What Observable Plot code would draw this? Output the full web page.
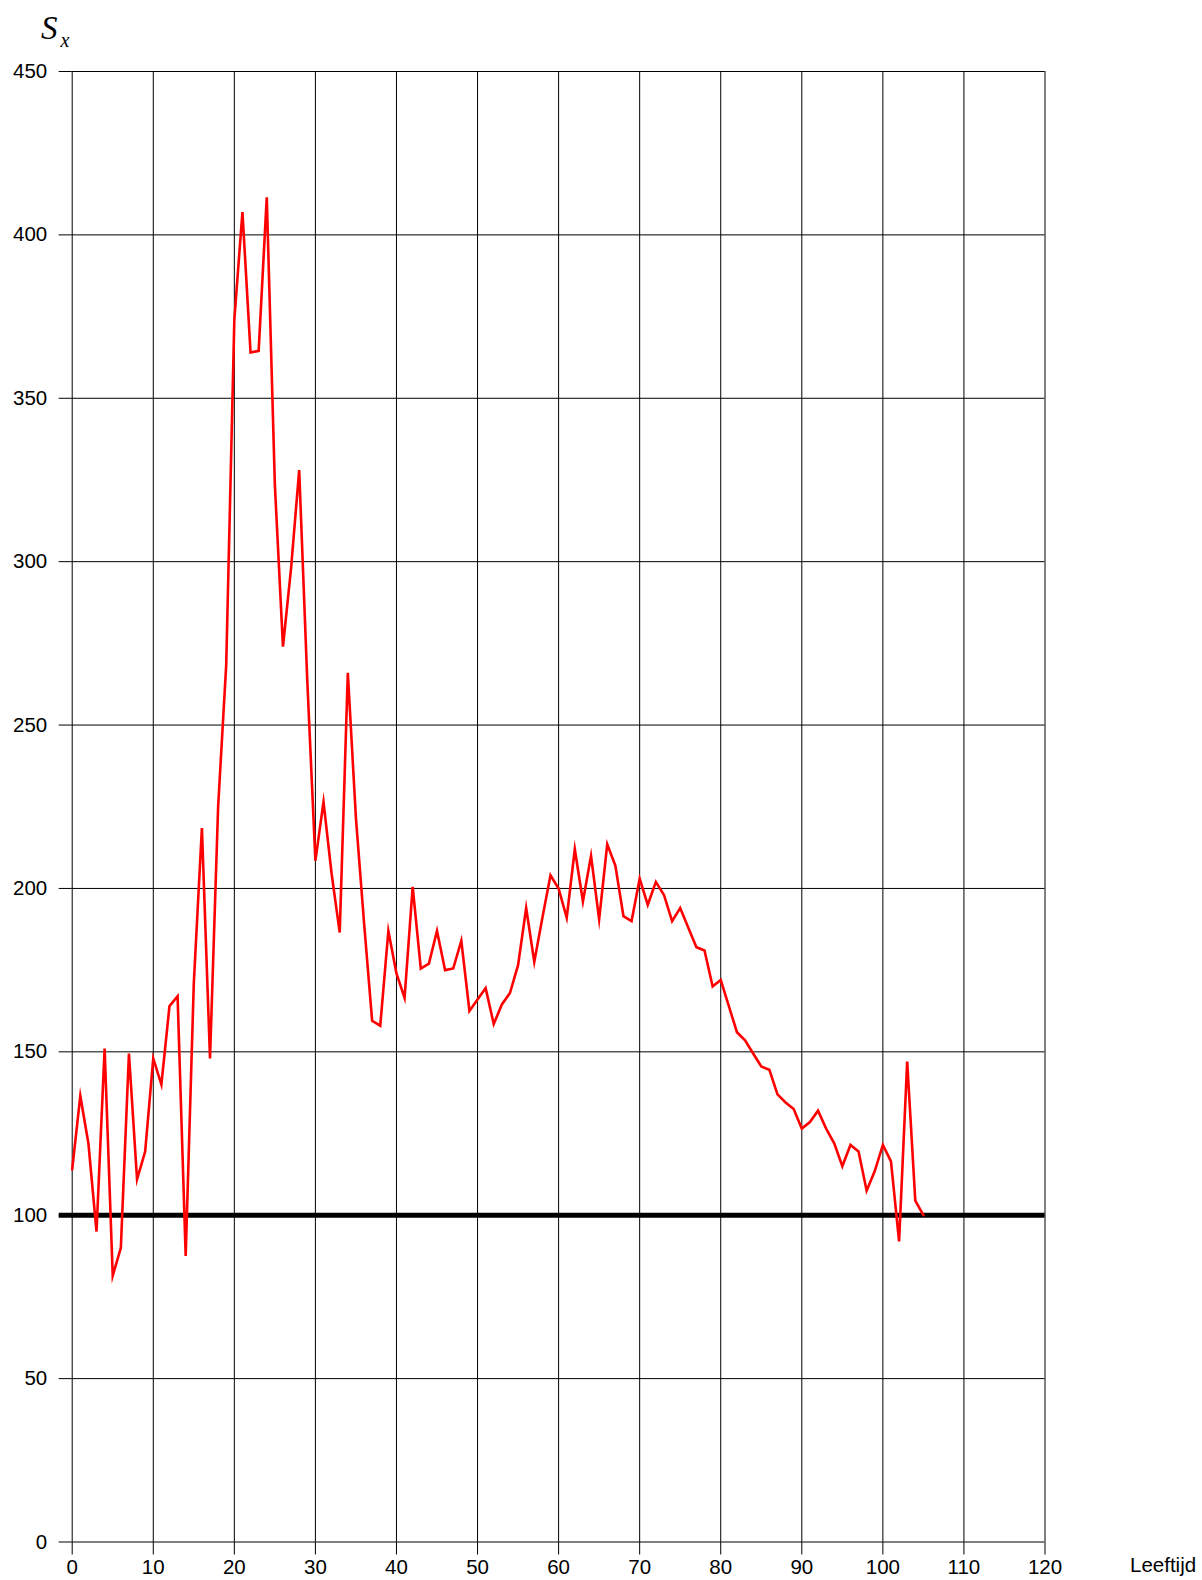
<!DOCTYPE html>
<html>
<head>
<meta charset="utf-8">
<script src="https://cdn.jsdelivr.net/npm/d3@7"></script>
<script src="https://cdn.jsdelivr.net/npm/@observablehq/plot@0.6"></script>
<style>
  html, body { margin: 0; padding: 0; background: #fff; overflow: hidden; }
  #chart { width: 1202px; height: 1580px; }
</style>
</head>
<body>
<div id="chart"></div>
<script>
const ages = [0,1,2,3,4,5,6,7,8,9,10,11,12,13,14,15,16,17,18,19,20,21,22,23,24,25,26,27,28,29,30,31,32,33,34,35,36,37,38,39,40,41,42,43,44,45,46,47,48,49,50,51,52,53,54,55,56,57,58,59,60,61,62,63,64,65,66,67,68,69,70,71,72,73,74,75,76,77,78,79,80,81,82,83,84,85,86,87,88,89,90,91,92,93,94,95,96,97,98,99,100,101,102,103,104,105];
const sx = [114,136.5,122,95,151,81.5,90,149.5,111,119.5,148,140,164,167,87.5,171,218.5,148,225,268.5,374,407,364,364.5,411.5,323.5,274,298,328,263.5,208.5,226.5,204.5,186.5,266,221.5,189.5,159.5,158,187,174,166.5,200.5,175.5,177,187,175,175.5,184,162.5,166,169.5,158.5,164.5,168,176.5,194,177.5,191,204,200,191,212,196,210,190.5,213.5,207,191.5,190,203,195,202,198,190,194,188,182,181,170,172,164,156,153.5,149.5,145.5,144.5,137,134.5,132.5,126.5,128.5,132,126.5,122,115,121.5,119.5,107.5,113.5,121.5,116.5,92,147,104.5,100];
const xTicks = [0,10,20,30,40,50,60,70,80,90,100,110,120];
const yTicks = [0,50,100,150,200,250,300,350,400,450];
const reference = [100];
const xLabel = "Leeftijd";

const data = ages.map((a, i) => ({age: a, s: sx[i]}));

const svg = Plot.plot({
  width: 1202,
  height: 1580,
  marginLeft: 71.7,
  marginRight: 157.5,
  marginTop: 71,
  marginBottom: 38.5,
  style: {fontFamily: "'Liberation Sans', Arial, sans-serif", fontSize: "20.5px", color: "#000", background: "#fff"},
  x: {domain: [0, 120]},
  y: {domain: [0, 450]},
  marks: [
    Plot.gridX(xTicks, {stroke: "#000", strokeOpacity: 1, strokeWidth: 1}),
    Plot.gridY(yTicks, {stroke: "#000", strokeOpacity: 1, strokeWidth: 1}),
    Plot.axisX(xTicks, {tickSize: 13, tickPadding: 4, label: null, fontSize: 20.5, tickFormat: d => String(d)}),
    Plot.axisY(yTicks, {tickSize: 13, tickPadding: 12, label: null, fontSize: 20.5, tickFormat: d => String(d)}),
    Plot.ruleY(reference, {stroke: "#000", strokeWidth: 5, insetLeft: -13}),
    Plot.line(data, {x: "age", y: "s", stroke: "#ff0000", strokeWidth: 2.6, strokeLinejoin: "miter", strokeMiterlimit: 10})
  ]
});

const s = d3.select(svg);
const lab = s.append("text")
  .attr("x", 41).attr("y", 39)
  .attr("text-anchor", "start")
  .attr("font-family", "'Liberation Serif', 'Times New Roman', serif")
  .attr("font-style", "italic")
  .attr("font-size", 33)
  .attr("fill", "#000");
lab.append("tspan").text("S");
lab.append("tspan").attr("font-size", 20).attr("dx", 3).attr("dy", 8).text("x");

s.append("text")
  .attr("x", 1130).attr("y", 1572)
  .attr("text-anchor", "start")
  .attr("font-family", "'Liberation Sans', Arial, sans-serif")
  .attr("font-size", 20.5)
  .attr("fill", "#000")
  .text(xLabel);

document.getElementById("chart").appendChild(svg);
</script>
</body>
</html>
